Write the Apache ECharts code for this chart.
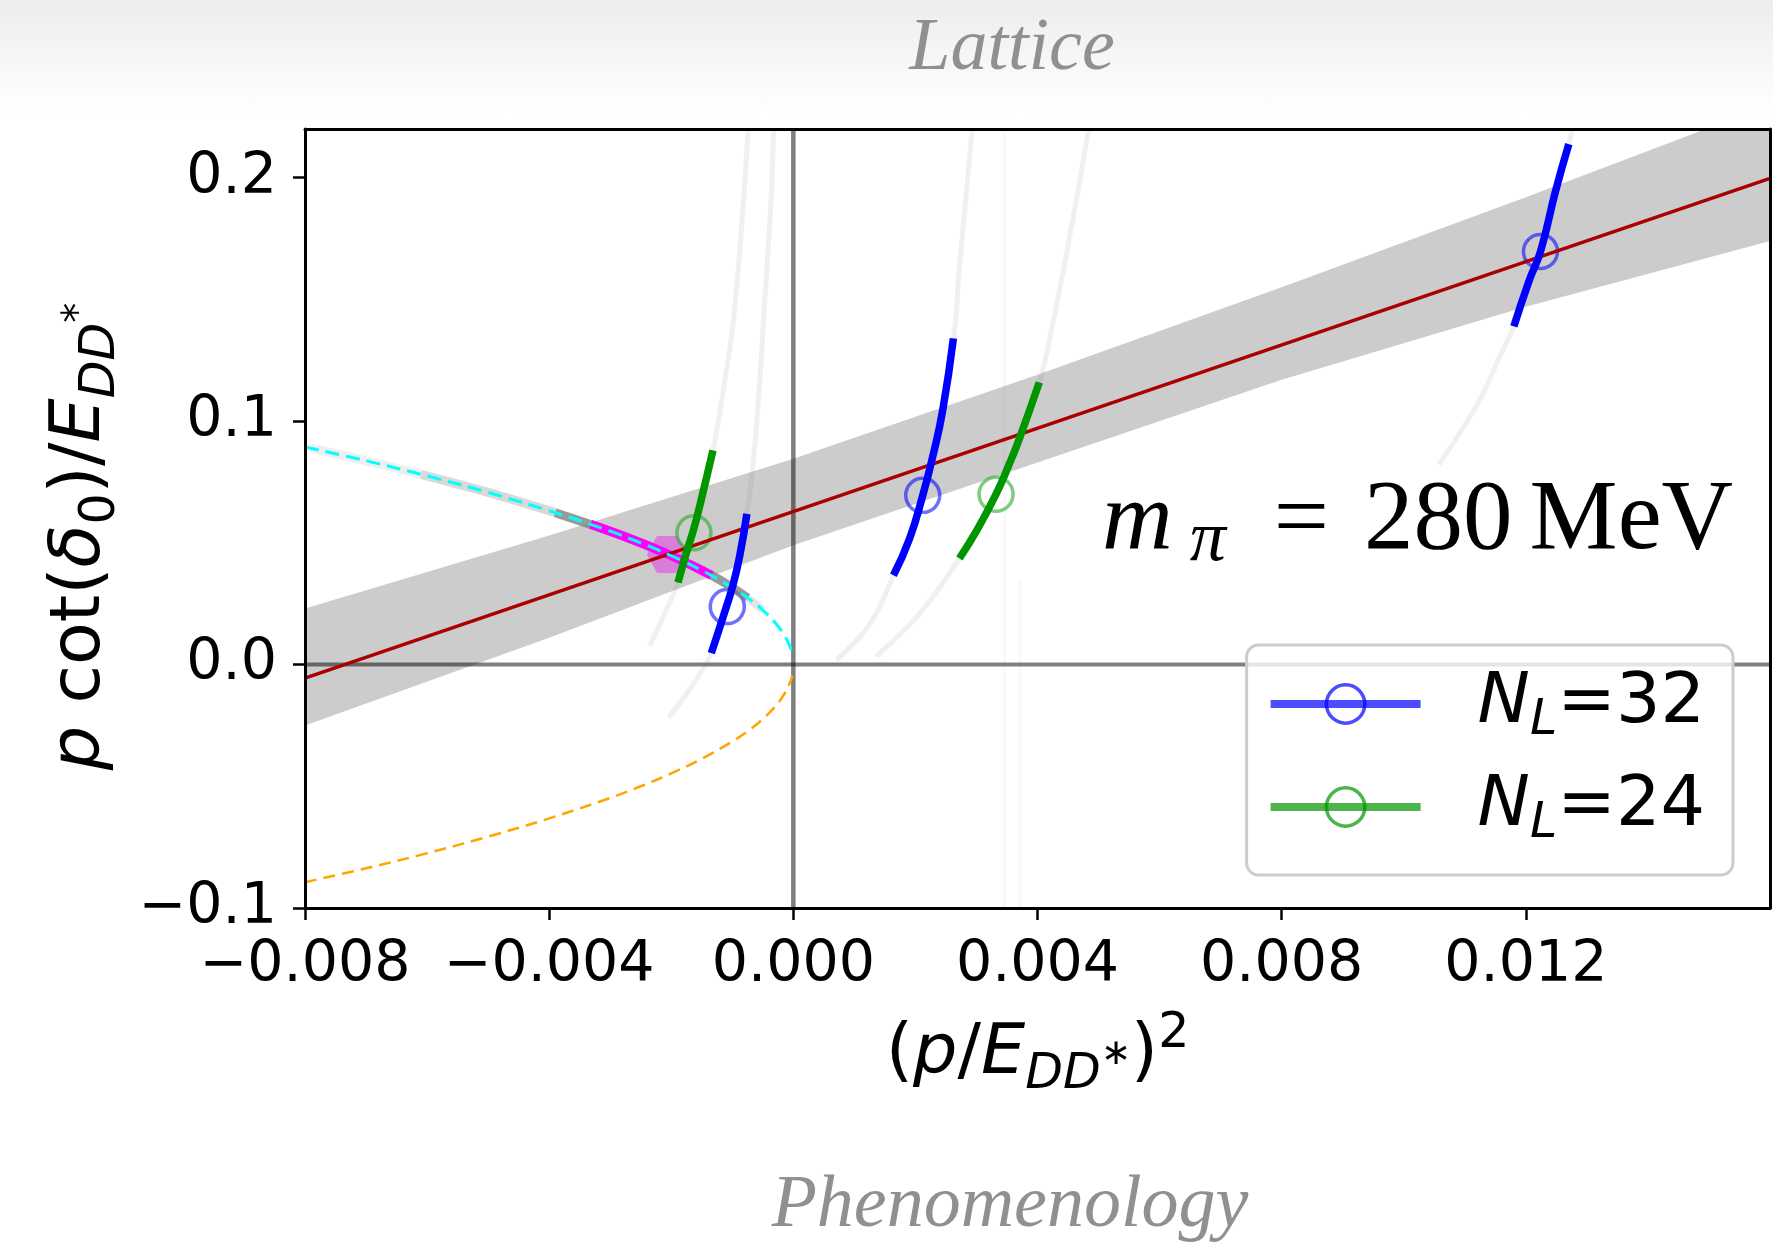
<!DOCTYPE html>
<html>
<head>
<meta charset="utf-8">
<script src="https://cdn.jsdelivr.net/npm/echarts@6.0.0/dist/echarts.min.js"></script>
<style>
  html, body { margin: 0; padding: 0; background: #fff; }
  #chart { width: 1773px; height: 1251px; background: linear-gradient(#ededed, #ffffff 9%); }
</style>
</head>
<body>
<div id="chart"></div>
<script>
// axis ticks
const xTicks = [-0.008, -0.004, 0, 0.004, 0.008, 0.012];
const yTicks = [-0.1, 0, 0.1, 0.2];

// linear fit with its error band
const fitX = [-0.008, 0.016];
const fitY = [-0.0056, 0.1997];
const bandX = [-0.008, -0.004, 0, 0.004, 0.008, 0.012, 0.016];
const bandLower = [-0.025, 0.011, 0.049, 0.083, 0.117, 0.147, 0.174];
const bandUpper = [0.023, 0.053, 0.0845, 0.119, 0.155, 0.192, 0.230];

// bound-state branches (dashed)
const branchX = [-0.008, -0.007, -0.006, -0.005, -0.004, -0.003, -0.0025, -0.002, -0.0015, -0.001, -0.0007, -0.0005, -0.0003, -0.00015, -0.00005, -0.000015];
const cyanY = [0.0894, 0.0837, 0.0775, 0.0707, 0.0632, 0.0548, 0.0500, 0.0447, 0.0387, 0.0316, 0.0265, 0.0224, 0.0173, 0.0122, 0.0071, 0.0039];
const orangeY = [-0.0894, -0.0837, -0.0775, -0.0707, -0.0632, -0.0548, -0.0500, -0.0447, -0.0387, -0.0316, -0.0265, -0.0224, -0.0173, -0.0122, -0.0071, -0.0045];

// grey samples along the upper branch
const cloudLight = [[-0.0079, 0.0889], [-0.007, 0.0837], [-0.0061, 0.0781]];
const cloudMid = [[-0.0061, 0.0781], [-0.005, 0.0707], [-0.0039, 0.0624]];
const cloudDark = [[-0.0039, 0.0624], [-0.003, 0.0548], [-0.0025, 0.0500], [-0.002, 0.0447], [-0.0015, 0.0387], [-0.0011, 0.0332], [-0.00075, 0.0274]];
const cloudTail = [[-0.0008, 0.0283], [-0.00065, 0.0255], [-0.0005, 0.0224]];

// pole (magenta)
const poleBand = [[-0.00332, 0.0576], [-0.0028, 0.0529], [-0.0024, 0.0490], [-0.002, 0.0447], [-0.0016, 0.0400], [-0.00134, 0.0366]];
const polePoint = [[-0.00207, 0.0452]];

// lattice levels, N_L = 32
const seg32a = [[-0.001344, 0.0047], [-0.001154, 0.0193], [-0.000990, 0.0326], [-0.000881, 0.0443], [-0.000761, 0.0619]];
const seg32b = [[0.001640, 0.0367], [0.001902, 0.0516], [0.002120, 0.0695], [0.002283, 0.0854], [0.002447, 0.1044], [0.002622, 0.1340]];
const seg32c = [[0.011804, 0.1389], [0.012049, 0.1574], [0.012240, 0.1697], [0.012486, 0.1944], [0.012704, 0.2138]];
const points32 = [[-0.001082, 0.0238], [0.002120, 0.0695], [0.012240, 0.1697]];

// lattice levels, N_L = 24
const seg24a = [[-0.001890, 0.0337], [-0.001753, 0.0458], [-0.001628, 0.0560], [-0.001508, 0.0678], [-0.001317, 0.0880]];
const seg24b = [[0.002720, 0.0436], [0.002993, 0.0546], [0.003321, 0.0700], [0.003538, 0.0824], [0.003702, 0.0927], [0.004029, 0.1159]];
const points24 = [[-0.001628, 0.0541], [0.003321, 0.0700]];

// faint quantisation curves
const faint32a = [[-0.002043, -0.0218], [-0.001645, -0.0082], [-0.001344, 0.0047], [-0.000990, 0.0326], [-0.000761, 0.0619], [-0.000607, 0.0971], [-0.000471, 0.1484], [-0.000362, 0.1924], [-0.000324, 0.2200]];
const faint24a = [[-0.002354, 0.0076], [-0.002190, 0.0164], [-0.001890, 0.0337], [-0.001628, 0.0560], [-0.001317, 0.0880], [-0.001154, 0.1117], [-0.000990, 0.1396], [-0.000853, 0.1778], [-0.000740, 0.2200]];
const faint32b = [[0.000702, 0.0018], [0.001247, 0.0164], [0.001640, 0.0367], [0.002120, 0.0695], [0.002622, 0.1340], [0.002720, 0.1631], [0.002829, 0.1924], [0.002930, 0.2200]];
const faint24b = [[0.001356, 0.0033], [0.002065, 0.0208], [0.002720, 0.0436], [0.003321, 0.0700], [0.004029, 0.1159], [0.004247, 0.1396], [0.004520, 0.1748], [0.004840, 0.2200]];
const faint32c = [[0.010576, 0.0821], [0.011231, 0.1081], [0.011613, 0.1287], [0.011804, 0.1389], [0.012240, 0.1697], [0.012704, 0.2138], [0.012760, 0.2200]];
const faintVert = [[[0.00346, -0.1], [0.00346, 0.22]], [[0.00371, -0.1], [0.00371, 0.035]]];

const zeroH = [[-0.008, 0], [0.016, 0]];
const zeroV = [[0, -0.1], [0, 0.22]];

const FONT = 'DejaVu Sans';
const SERIF = 'Liberation Serif';
const BLUE = '#0000ff';
const GREEN = '#009600';

const chart = echarts.init(document.getElementById('chart'), null, { renderer: 'canvas' });

function zip(xs, ys) { return xs.map((x, i) => [x, ys[i]]); }

function line(data, color, width, extra) {
  return Object.assign({
    type: 'line', data: data, showSymbol: false, symbol: 'none', silent: true,
    smooth: 0.3, lineStyle: { color: color, width: width }
  }, extra || {});
}

function fmtX(v) { return v.toFixed(3).replace('-', '\u2212'); }
function fmtY(v) { return v.toFixed(1).replace('-', '\u2212'); }

const sub = (size, lh) => ({ fontFamily: FONT, fontSize: size, lineHeight: lh, verticalAlign: 'bottom' });
const labelRich = {
  n: { fontFamily: FONT, fontSize: 70, lineHeight: 90, verticalAlign: 'middle' },
  i: { fontFamily: FONT, fontSize: 70, fontStyle: 'italic', lineHeight: 90, verticalAlign: 'middle' },
  s: sub(49, 52),
  si: Object.assign(sub(49, 52), { fontStyle: 'italic' }),
  sp: { fontFamily: FONT, fontSize: 40, lineHeight: 90, verticalAlign: 'middle' },
  sm: { fontFamily: FONT, fontSize: 36, lineHeight: 90, verticalAlign: 'middle' },
  sq: { fontFamily: FONT, fontSize: 49, lineHeight: 50, verticalAlign: 'top' }
};

const series = [];

// error band
series.push({
  type: 'custom', silent: true, clip: true, z: 1,
  renderItem: function (params, api) {
    const pts = [];
    bandX.forEach((x, i) => pts.push(api.coord([x, bandUpper[i]])));
    for (let i = bandX.length - 1; i >= 0; i--) pts.push(api.coord([bandX[i], bandLower[i]]));
    return { type: 'polygon', shape: { points: pts }, style: { fill: '#cccccc' } };
  },
  data: [[0, 0]]
});

faintVert.forEach(d => series.push(line(d, 'rgba(0,0,0,0.022)', 3, { smooth: false })));
series.push(line(zeroH, 'rgba(0,0,0,0.5)', 4, { smooth: false }));
series.push(line(zeroV, 'rgba(0,0,0,0.5)', 4.5, { smooth: false }));

[faint32a, faint24a, faint32b, faint24b, faint32c].forEach(d =>
  series.push(line(d, 'rgba(110,110,110,0.1)', 5, { smooth: 0.35 })));

series.push(line(cloudLight, 'rgba(128,128,128,0.13)', 9));
series.push(line(cloudMid, 'rgba(128,128,128,0.3)', 9));
series.push(line(cloudDark, 'rgba(128,128,128,0.8)', 9));
series.push(line(cloudTail, 'rgba(128,128,128,0.2)', 8));

series.push({
  type: 'scatter', data: polePoint, silent: true,
  symbol: 'path://M-1,0 L-0.5,-0.866 L0.5,-0.866 L1,0 L0.5,0.866 L-0.5,0.866 Z',
  symbolSize: [40, 37], itemStyle: { color: 'rgba(222,90,222,0.85)' }
});
series.push(line(poleBand, '#ff00ff', 9));

series.push(line(zip(fitX, fitY), '#aa0000', 3.5, { smooth: false }));

series.push(line(zip(branchX, cyanY), '#00ffff', 3, { smooth: 0.35, lineStyle: { color: '#00ffff', width: 3, type: [14, 7] } }));
series.push(line(zip(branchX, orangeY), '#ffa500', 2.5, { smooth: 0.35, lineStyle: { color: '#ffa500', width: 2.5, type: [12, 7] } }));

[seg32a, seg32b, seg32c].forEach(d => series.push(line(d, BLUE, 7.5, { name: 'N_L=32', symbol: 'circle', smooth: true })));
[seg24a, seg24b].forEach(d => series.push(line(d, GREEN, 7.5, { name: 'N_L=24', symbol: 'circle', smooth: true })));

series.push({
  type: 'scatter', name: 'p32', data: points32, silent: true, symbol: 'circle', symbolSize: 34,
  itemStyle: { color: 'rgba(0,0,0,0)', borderColor: 'rgba(0,0,255,0.7)', borderWidth: 3.5 }
});
series.push({
  type: 'scatter', name: 'p24', data: points24, silent: true, symbol: 'circle', symbolSize: 34,
  itemStyle: { color: 'rgba(0,0,0,0)', borderColor: 'rgba(40,170,40,0.75)', borderWidth: 3.5 }
});

const spine = { show: true, onZero: false, lineStyle: { color: '#000', width: 3 } };

const option = {
  backgroundColor: 'transparent',
  animation: false,
  grid: { left: 305, right: 3, top: 129, bottom: 343, containLabel: false, outerBoundsMode: 'none' },
  xAxis: [{
    type: 'value', min: -0.008, max: 0.016, interval: 0.004, z: 10,
    axisLine: spine,
    axisTick: { show: true, length: 12, customValues: xTicks, lineStyle: { color: '#000', width: 2.5 } },
    axisLabel: { customValues: xTicks, formatter: fmtX, fontFamily: FONT, fontSize: 57, color: '#000', margin: 30 },
    splitLine: { show: false },
    name: '{n|(}{i|p}{n|/}{i|E}{si|DD}{sm|\u2217}{n|)}{sq|2}',
    nameLocation: 'middle', nameGap: 102,
    nameTextStyle: { rich: labelRich, color: '#000' }
  }, {
    type: 'value', position: 'top', min: -0.008, max: 0.016, z: 10,
    axisLine: spine, axisTick: { show: false }, axisLabel: { show: false }, splitLine: { show: false }
  }],
  yAxis: [{
    type: 'value', min: -0.1, max: 0.22, interval: 0.1, z: 10,
    axisLine: spine,
    axisTick: { show: true, length: 12, customValues: yTicks, lineStyle: { color: '#000', width: 2.5 } },
    axisLabel: { customValues: yTicks, formatter: fmtY, fontFamily: FONT, fontSize: 57, color: '#000', margin: 28 },
    splitLine: { show: false },
    name: '{i|p}{n| cot(}{i|\u03b4}{s|0}{n|)/}{i|E}{si|DD}{sp|*}',
    nameLocation: 'middle', nameRotate: 90, nameGap: 179,
    nameTextStyle: { rich: labelRich, color: '#000', padding: [0, 36, 0, 0] }
  }, {
    type: 'value', position: 'right', min: -0.1, max: 0.22, z: 10,
    axisLine: spine, axisTick: { show: false }, axisLabel: { show: false }, splitLine: { show: false }
  }],
  legend: {
    orient: 'vertical', right: 40, top: 645,
    selectedMode: false,
    padding: [24, 28, 26, 20],
    itemGap: 26, itemWidth: 150, itemHeight: 48,
    backgroundColor: 'rgba(255,255,255,0.8)',
    borderColor: '#cccccc', borderWidth: 3, borderRadius: 12,
    data: [
      { name: 'N_L=32', itemStyle: { color: 'rgba(0,0,0,0)', borderColor: 'rgba(0,0,255,0.7)', borderWidth: 3.5 }, lineStyle: { color: 'rgba(0,0,255,0.7)', width: 8 } },
      { name: 'N_L=24', itemStyle: { color: 'rgba(0,0,0,0)', borderColor: 'rgba(0,150,0,0.7)', borderWidth: 3.5 }, lineStyle: { color: 'rgba(0,150,0,0.7)', width: 8 } }
    ],
    formatter: name => '{g| }{i|N}{s|L}{n|=' + name.split('=')[1] + '}',
    textStyle: {
      color: '#000',
      rich: {
        g: { width: 52, fontSize: 70, lineHeight: 84, verticalAlign: 'middle' },
        n: { fontFamily: FONT, fontSize: 70, lineHeight: 84, verticalAlign: 'middle' },
        i: { fontFamily: FONT, fontSize: 70, fontStyle: 'italic', lineHeight: 84, verticalAlign: 'middle' },
        s: { fontFamily: FONT, fontSize: 49, fontStyle: 'italic', lineHeight: 48, verticalAlign: 'bottom' }
      }
    }
  },
  graphic: [
    {
      type: 'text', x: 1012, y: 87, silent: true,
      style: { text: 'Lattice', font: 'italic 74px "Liberation Serif"', fill: '#909090', align: 'center', verticalAlign: 'bottom' }
    },
    {
      type: 'text', x: 1010, y: 1244, silent: true,
      style: { text: 'Phenomenology', font: 'italic 74px "Liberation Serif"', fill: '#909090', align: 'center', verticalAlign: 'bottom' }
    },
    {
      type: 'text', x: 1102, y: 522, silent: true, z: 20,
      style: {
        text: '{m|m}{g0| }{p|\u03c0}{g1| }{e|=}{g2| }{n|280}{g3| }{n|MeV}',
        align: 'left', verticalAlign: 'middle', fill: '#000',
        rich: {
          m: { fontFamily: SERIF, fontStyle: 'italic', fontSize: 98, lineHeight: 110, verticalAlign: 'middle' },
          p: { fontFamily: SERIF, fontStyle: 'italic', fontSize: 72, lineHeight: 76, verticalAlign: 'bottom' },
          e: { fontFamily: SERIF, fontSize: 98, lineHeight: 110, verticalAlign: 'middle' },
          n: { fontFamily: SERIF, fontSize: 99, lineHeight: 110, verticalAlign: 'middle' },
          g0: { width: 17, fontSize: 98, lineHeight: 110, verticalAlign: 'middle' },
          g1: { width: 48, fontSize: 98, lineHeight: 110, verticalAlign: 'middle' },
          g2: { width: 35, fontSize: 98, lineHeight: 110, verticalAlign: 'middle' },
          g3: { width: 17, fontSize: 98, lineHeight: 110, verticalAlign: 'middle' }
        }
      }
    }
  ],
  series: series
};

chart.setOption(option);
</script>
</body>
</html>
